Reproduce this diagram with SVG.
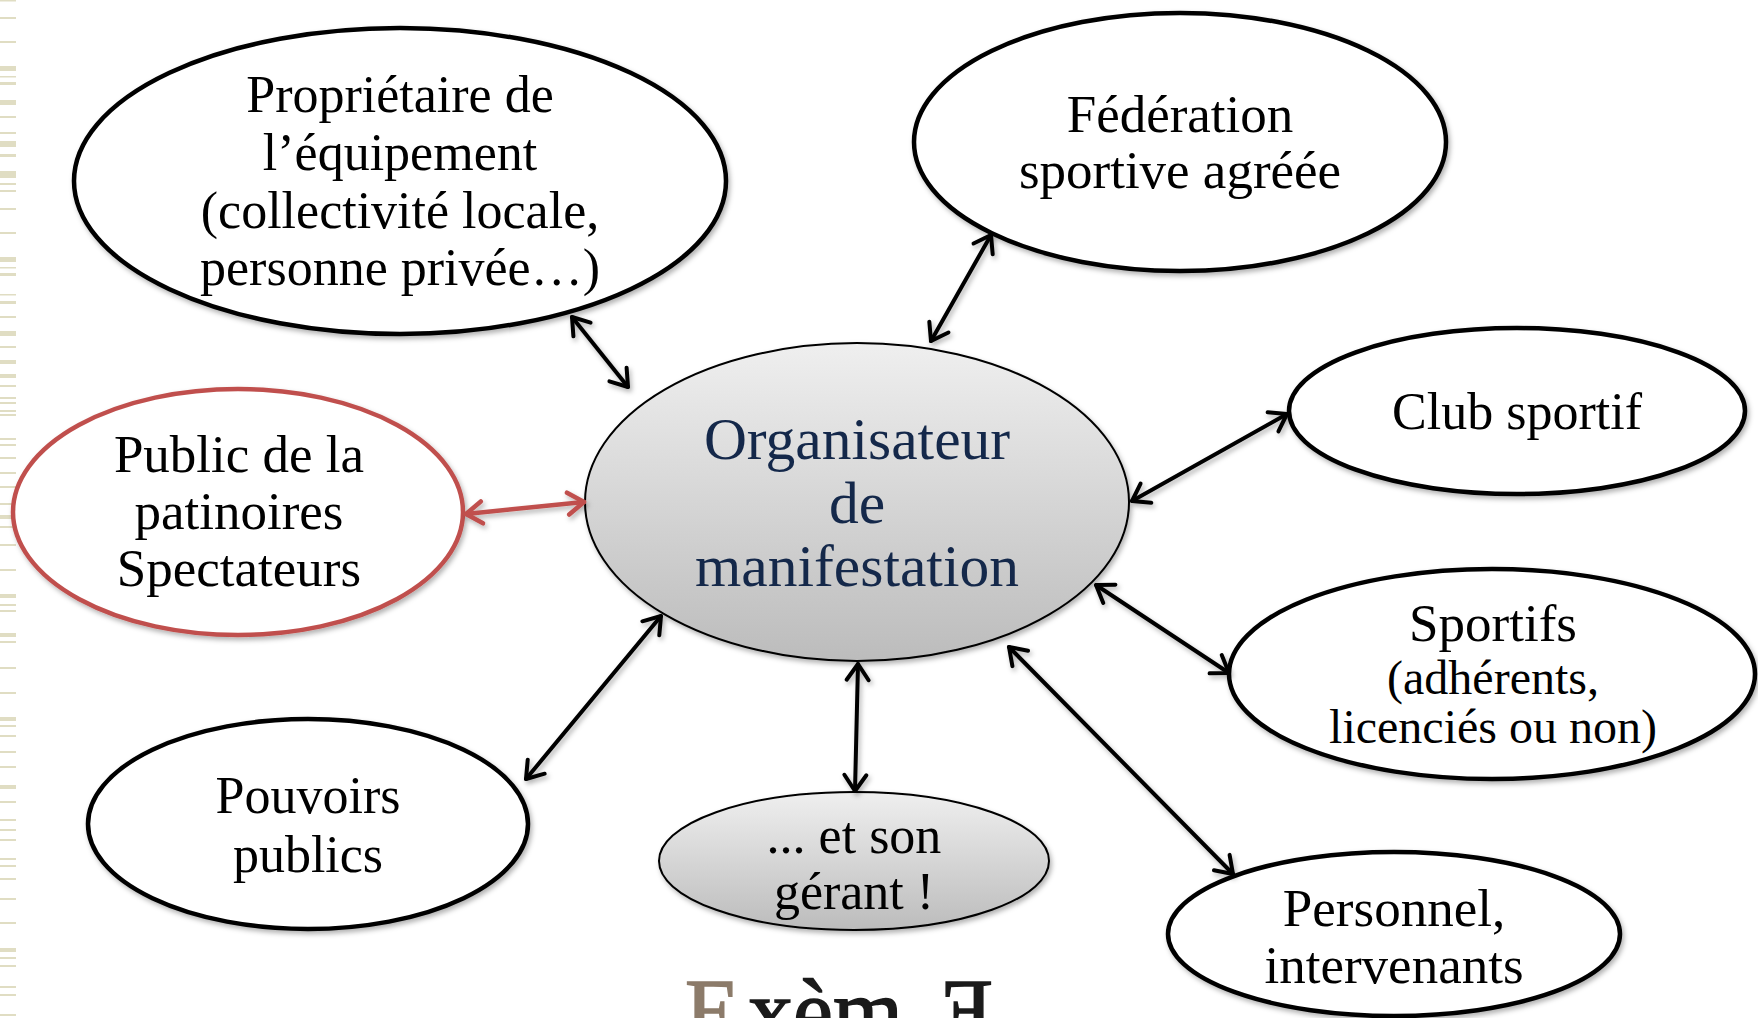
<svg xmlns="http://www.w3.org/2000/svg" width="1758" height="1018" viewBox="0 0 1758 1018">
<style>
.n{fill:#fff;stroke:#000;stroke-width:4.5}
.nr{fill:#fff;stroke:#c0504d;stroke-width:4.5}
.g{stroke:#000;stroke-width:2}
.t{font-family:"Liberation Serif","Times New Roman",serif;fill:#000;text-anchor:middle}
.c{stroke:#000;stroke-width:4;fill:none;stroke-linecap:round}
.cr{stroke:#c0504d;stroke-width:4.5;fill:none;stroke-linecap:round}
.st{fill:#e0ddc3}
</style>
<defs>
<linearGradient id="gr" x1="0" y1="0" x2="0" y2="1">
<stop offset="0" stop-color="#efefef"/>
<stop offset="1" stop-color="#bcbcbc"/>
</linearGradient>
<filter id="sh" x="-10%" y="-10%" width="130%" height="130%">
<feDropShadow dx="2" dy="3" stdDeviation="2.5" flood-color="#000" flood-opacity="0.3"/>
</filter>
<marker id="ah" markerUnits="userSpaceOnUse" markerWidth="40" markerHeight="40" viewBox="-20 -20 40 40" refX="0" refY="0" orient="auto-start-reverse" overflow="visible">
<path d="M-16,-11 L0,0 L-16,11" fill="none" stroke="#000" stroke-width="4" stroke-linecap="round" stroke-linejoin="round"/>
</marker>
<marker id="ahr" markerUnits="userSpaceOnUse" markerWidth="40" markerHeight="40" viewBox="-20 -20 40 40" refX="0" refY="0" orient="auto-start-reverse" overflow="visible">
<path d="M-16,-11 L0,0 L-16,11" fill="none" stroke="#c0504d" stroke-width="4.5" stroke-linecap="round" stroke-linejoin="round"/>
</marker>
</defs>
<rect width="1758" height="1018" fill="#fff"/>
<g id="stripes">
<rect class="st" x="0" y="0" width="16" height="1.5"/>
<rect class="st" x="0" y="17" width="16" height="2"/>
<rect class="st" x="0" y="41" width="16" height="2"/>
<rect class="st" x="0" y="66" width="16" height="5"/>
<rect class="st" x="0" y="76" width="16" height="1.5"/>
<rect class="st" x="0" y="82" width="16" height="3"/>
<rect class="st" x="0" y="100" width="16" height="5"/>
<rect class="st" x="0" y="116" width="16" height="2"/>
<rect class="st" x="0" y="132" width="16" height="2"/>
<rect class="st" x="0" y="141" width="16" height="6"/>
<rect class="st" x="0" y="154" width="16" height="3"/>
<rect class="st" x="0" y="171" width="16" height="7"/>
<rect class="st" x="0" y="183" width="16" height="2"/>
<rect class="st" x="0" y="190" width="16" height="2"/>
<rect class="st" x="0" y="208" width="16" height="2"/>
<rect class="st" x="0" y="232" width="16" height="2"/>
<rect class="st" x="0" y="257" width="16" height="5"/>
<rect class="st" x="0" y="267" width="16" height="1.5"/>
<rect class="st" x="0" y="273" width="16" height="3"/>
<rect class="st" x="0" y="294" width="16" height="1.5"/>
<rect class="st" x="0" y="301" width="16" height="3"/>
<rect class="st" x="0" y="316" width="16" height="2"/>
<rect class="st" x="0" y="331" width="16" height="5"/>
<rect class="st" x="0" y="346" width="16" height="2"/>
<rect class="st" x="0" y="360" width="16" height="4"/>
<rect class="st" x="0" y="374" width="16" height="4"/>
<rect class="st" x="0" y="385" width="16" height="2"/>
<rect class="st" x="0" y="397" width="16" height="2"/>
<rect class="st" x="0" y="402" width="16" height="2"/>
<rect class="st" x="0" y="410" width="16" height="2"/>
<rect class="st" x="0" y="414" width="16" height="2"/>
<rect class="st" x="0" y="438" width="16" height="2"/>
<rect class="st" x="0" y="444" width="16" height="2"/>
<rect class="st" x="0" y="457" width="16" height="2"/>
<rect class="st" x="0" y="472" width="16" height="2"/>
<rect class="st" x="0" y="486" width="16" height="2"/>
<rect class="st" x="0" y="503" width="16" height="2"/>
<rect class="st" x="0" y="515" width="16" height="4"/>
<rect class="st" x="0" y="526" width="16" height="2"/>
<rect class="st" x="0" y="544" width="16" height="2"/>
<rect class="st" x="0" y="569" width="16" height="2"/>
<rect class="st" x="0" y="594" width="16" height="4"/>
<rect class="st" x="0" y="604" width="16" height="2"/>
<rect class="st" x="0" y="610" width="16" height="2"/>
<rect class="st" x="0" y="633" width="16" height="4"/>
<rect class="st" x="0" y="641" width="16" height="2"/>
<rect class="st" x="0" y="667" width="16" height="2"/>
<rect class="st" x="0" y="692" width="16" height="2"/>
<rect class="st" x="0" y="717" width="16" height="4"/>
<rect class="st" x="0" y="725" width="16" height="2"/>
<rect class="st" x="0" y="735" width="16" height="2"/>
<rect class="st" x="0" y="751" width="16" height="2"/>
<rect class="st" x="0" y="766" width="16" height="2"/>
<rect class="st" x="0" y="785" width="16" height="4"/>
<rect class="st" x="0" y="801" width="16" height="2"/>
<rect class="st" x="0" y="819" width="16" height="2"/>
<rect class="st" x="0" y="829" width="16" height="2"/>
<rect class="st" x="0" y="839" width="16" height="2"/>
<rect class="st" x="0" y="858" width="16" height="2"/>
<rect class="st" x="0" y="865" width="16" height="2"/>
<rect class="st" x="0" y="878" width="16" height="2"/>
<rect class="st" x="0" y="898" width="16" height="2"/>
<rect class="st" x="0" y="922" width="16" height="2"/>
<rect class="st" x="0" y="948" width="16" height="4"/>
<rect class="st" x="0" y="957" width="16" height="2"/>
<rect class="st" x="0" y="965" width="16" height="2"/>
<rect class="st" x="0" y="986" width="16" height="2"/>
<rect class="st" x="0" y="994" width="16" height="2"/>
<rect class="st" x="0" y="1014" width="16" height="2"/>
</g>
<g id="proprietaire">
<ellipse class="n" cx="400" cy="181" rx="326" ry="153" filter="url(#sh)"/>
<text class="t" font-size="52"><tspan x="400" y="112">Propriétaire de</tspan><tspan x="400" y="170">l’équipement</tspan><tspan x="400" y="228">(collectivité locale,</tspan><tspan x="400" y="285">personne privée…)</tspan></text>
</g>
<g id="federation">
<ellipse class="n" cx="1180" cy="142" rx="266" ry="129" filter="url(#sh)"/>
<text class="t" font-size="53"><tspan x="1180" y="132">Fédération</tspan><tspan x="1180" y="188">sportive agréée</tspan></text>
</g>
<g id="club">
<ellipse class="n" cx="1517" cy="411" rx="228" ry="83" filter="url(#sh)"/>
<text class="t" font-size="52" x="1517" y="429">Club sportif</text>
</g>
<g id="sportifs">
<ellipse class="n" cx="1492" cy="674" rx="263" ry="105" filter="url(#sh)"/>
<text class="t" font-size="53" x="1493" y="641">Sportifs</text>
<text class="t" font-size="48"><tspan x="1493" y="694">(adhérents,</tspan><tspan x="1493" y="743">licenciés ou non)</tspan></text>
</g>
<g id="personnel">
<ellipse class="n" cx="1394" cy="934" rx="226" ry="82" filter="url(#sh)"/>
<text class="t" font-size="53"><tspan x="1394" y="926">Personnel,</tspan><tspan x="1394" y="983">intervenants</tspan></text>
</g>
<g id="gerant">
<ellipse class="g" cx="854" cy="861" rx="195" ry="69" fill="url(#gr)" filter="url(#sh)"/>
<text class="t" font-size="52"><tspan x="854" y="853">... et son</tspan><tspan x="854" y="909">gérant !</tspan></text>
</g>
<g id="pouvoirs">
<ellipse class="n" cx="308" cy="824" rx="220" ry="105" filter="url(#sh)"/>
<text class="t" font-size="52"><tspan x="308" y="813">Pouvoirs</tspan><tspan x="308" y="872">publics</tspan></text>
</g>
<g id="public">
<ellipse class="nr" cx="238" cy="512" rx="225" ry="123" filter="url(#sh)"/>
<text class="t" font-size="53"><tspan x="239" y="472">Public de la</tspan><tspan x="239" y="529">patinoires</tspan><tspan x="239" y="586">Spectateurs</tspan></text>
</g>
<g id="organisateur">
<ellipse class="g" cx="857" cy="502" rx="272" ry="159" fill="url(#gr)" filter="url(#sh)"/>
<text class="t" font-size="59.5" style="fill:#14284a"><tspan x="857" y="459">Organisateur</tspan><tspan x="857" y="523">de</tspan><tspan x="857" y="586">manifestation</tspan></text>
</g>
<g id="connectors" filter="url(#sh)">
<line class="c" x1="572" y1="317" x2="628" y2="387" marker-start="url(#ah)" marker-end="url(#ah)"/>
<line class="c" x1="991" y1="235" x2="931" y2="341" marker-start="url(#ah)" marker-end="url(#ah)"/>
<line class="c" x1="1287" y1="414" x2="1132" y2="501" marker-start="url(#ah)" marker-end="url(#ah)"/>
<line class="c" x1="1229" y1="673" x2="1096" y2="585" marker-start="url(#ah)" marker-end="url(#ah)"/>
<line class="c" x1="1233" y1="874" x2="1009" y2="647" marker-start="url(#ah)" marker-end="url(#ah)"/>
<line class="c" x1="855" y1="791" x2="858" y2="664" marker-start="url(#ah)" marker-end="url(#ah)"/>
<line class="c" x1="526" y1="779" x2="661" y2="616" marker-start="url(#ah)" marker-end="url(#ah)"/>
<line class="cr" x1="466" y1="514" x2="584" y2="502" marker-start="url(#ahr)" marker-end="url(#ahr)"/>
</g>
<text font-family="'Liberation Serif','Times New Roman',serif" font-size="90" y="1042" stroke="#1a1a1a" stroke-width="1.5"><tspan x="685" fill="#8c7b6a" stroke="#8c7b6a">E</tspan><tspan x="748" fill="#1a1a1a">xèm</tspan><tspan x="938" fill="#1a1a1a">Ǝ</tspan></text>
</svg>
